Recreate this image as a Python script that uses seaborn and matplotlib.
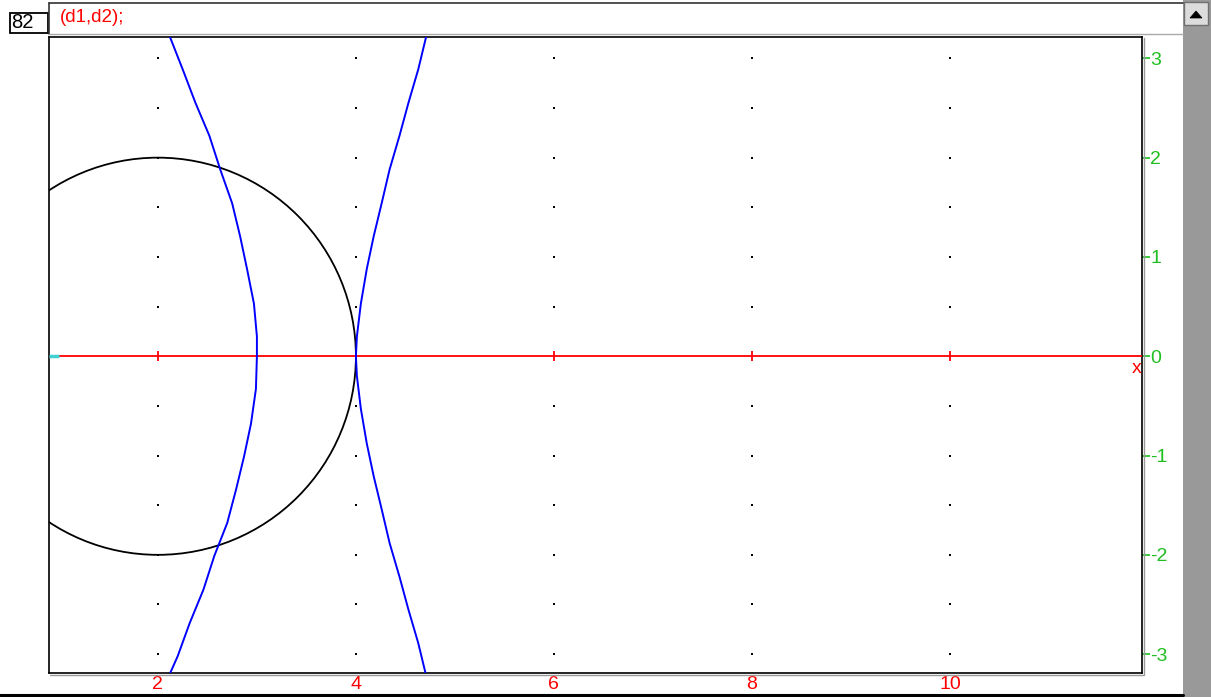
import numpy as np
import pandas as pd
import matplotlib
matplotlib.use("Agg")
import matplotlib.pyplot as plt
from matplotlib.patches import Rectangle, Circle, Polygon
from matplotlib.lines import Line2D
import seaborn as sns

# ---- data -----------------------------------------------------------------
# d1: left branch (vertex near x=3), listed from top to bottom
d1_x = [2.12, 2.25, 2.38, 2.52, 2.63, 2.75, 2.83, 2.90, 2.97, 3.00, 3.00,
        2.99, 2.94, 2.87, 2.79, 2.70, 2.57, 2.46, 2.32, 2.20, 2.12]
d1_y = [3.22, 2.89, 2.55, 2.22, 1.88, 1.54, 1.21, 0.88, 0.53, 0.20, 0.00,
        -0.33, -0.68, -1.01, -1.34, -1.68, -2.01, -2.35, -2.69, -3.02, -3.20]
# d2: right branch (vertex at x=4)
d2_x = [4.71, 4.63, 4.53, 4.44, 4.34, 4.26, 4.18, 4.11, 4.05, 4.01, 4.00,
        4.01, 4.05, 4.11, 4.18, 4.26, 4.34, 4.44, 4.53, 4.63, 4.71]
d2_y = [3.22, 2.89, 2.55, 2.22, 1.88, 1.54, 1.21, 0.88, 0.53, 0.20, 0.00,
        -0.20, -0.53, -0.88, -1.21, -1.54, -1.88, -2.22, -2.55, -2.89, -3.22]
# circle
circle_center = (2.0, 0.0)
circle_radius = 2.0

# axes and ticks
x_ticks = [2, 4, 6, 8, 10]
x_tick_labels = ["2", "4", "6", "8", "10"]
y_ticks = [3, 2, 1, 0, -1, -2, -3]
y_tick_labels = ["3", "2", "1", "0", "-1", "-2", "-3"]
grid_x = [2, 4, 6, 8, 10]
grid_y = [3, 2.5, 2, 1.5, 1, 0.5, -0.5, -1, -1.5, -2, -2.5, -3]
x_range = (0.9, 11.94)
y_range = (-3.19, 3.215)

entry_number = "82"
command_text = "(d1,d2);"

# ---- figure ---------------------------------------------------------------
W, H = 1211, 697
sns.set_style("white")
plt.rcParams["font.family"] = ["Liberation Sans", "DejaVu Sans"]

fig = plt.figure(figsize=(W / 100, H / 100), dpi=100)
fig.patch.set_facecolor("white")


def fx(px):
    return px / W


def fy(py):
    return 1 - py / H


RED = "#ff0000"
GREEN = "#1fbf1f"
BLUE = "#0000ff"

ax = fig.add_axes([fx(49), fy(673), (1142 - 49) / W, (673 - 37) / H])
ax.set_xlim(*x_range)
ax.set_ylim(*y_range)
for s in ax.spines.values():
    s.set_color("black")
    s.set_linewidth(1.2)

# dotted grid
gx, gy = np.meshgrid(grid_x, grid_y)
grid_df = pd.DataFrame({"x": gx.ravel(), "y": gy.ravel()})
sns.scatterplot(data=grid_df, x="x", y="y", ax=ax, marker="s", s=3.5,
                color="black", linewidth=0, legend=False, zorder=2)

# horizontal axis line with its tick marks
ax.plot([1.0, x_range[1]], [0, 0], color=RED, lw=1.3, zorder=3)
ax.plot([x_range[0], 1.0], [0, 0], color="#40d0d0", lw=2.5, zorder=3,
        solid_capstyle="butt")
ax.plot(x_ticks, [0] * len(x_ticks), linestyle="none", marker="|",
        markersize=7, markeredgewidth=1.3, color=RED, zorder=3)
ax.text(11.89, -0.04, "x", color=RED, fontsize=14, ha="center", va="top")

# circle
ax.add_patch(Circle(circle_center, circle_radius, fill=False,
                    edgecolor="black", lw=1.3, zorder=4))

# the two curves
d1 = pd.DataFrame({"x": d1_x, "y": d1_y})
d2 = pd.DataFrame({"x": d2_x, "y": d2_y})
sns.lineplot(data=d1, x="x", y="y", sort=False, estimator=None, ax=ax,
             color=BLUE, lw=1.4, zorder=5)
sns.lineplot(data=d2, x="x", y="y", sort=False, estimator=None, ax=ax,
             color=BLUE, lw=1.4, zorder=5)

# ticks: red along the bottom, green on the right
ax.set_xticks(x_ticks)
ax.set_xticklabels(x_tick_labels)
ax.tick_params(axis="x", colors=RED, direction="inout", length=6, width=1.2,
               labelsize=14, pad=-1)
ax.yaxis.tick_right()
ax.set_yticks(y_ticks)
ax.set_yticklabels(y_tick_labels)
ax.tick_params(axis="y", colors=GREEN, direction="out", length=6, width=1.2,
               labelsize=14, pad=0, left=False, right=True)
ax.set_xlabel("")
ax.set_ylabel("")

# ---- window decoration ----------------------------------------------------
def frect(x0, y0, x1, y1, **kw):
    fig.add_artist(Rectangle((fx(x0), fy(y1)), fx(x1) - fx(x0), fy(y0) - fy(y1),
                             transform=fig.transFigure, **kw))


def fline(xs, ys, **kw):
    fig.add_artist(Line2D([fx(v) for v in xs], [fy(v) for v in ys],
                          transform=fig.transFigure, **kw))


# entry number box
frect(10, 13, 48, 33, fill=False, edgecolor="black", lw=1.3)
fig.text(fx(11), fy(23), entry_number, fontsize=14.5, color="black",
         ha="left", va="center")
# command field
fline([49, 1183], [3, 3], color="#333333", lw=1.2)
fline([49, 49], [3, 34], color="#333333", lw=1.2)
fline([49, 1183], [34, 34], color="#aaaaaa", lw=1.0)
fig.text(fx(60), fy(18), command_text, fontsize=13.5, color=RED,
         ha="left", va="center")
# shadow of the graph frame
fline([1143.5, 1143.5], [38, 674], color="#999999", lw=1.0)
fline([50, 1143.5], [674.5, 674.5], color="#999999", lw=1.0)
# bottom rule
fline([0, 1183], [694.5, 694.5], color="black", lw=2.2)
# scrollbar
frect(1183, 0, 1211, 697, facecolor="#999999", edgecolor="none")
frect(1184, 2, 1208, 25, facecolor="#dcdcdc", edgecolor="#707070", lw=1.0)
fig.add_artist(Polygon([(fx(1190), fy(18)), (fx(1202), fy(18)),
                        (fx(1196), fy(11))], closed=True,
                       transform=fig.transFigure, facecolor="black",
                       edgecolor="black", lw=0.5))

fig.savefig("out.png", dpi=100, facecolor="white")
